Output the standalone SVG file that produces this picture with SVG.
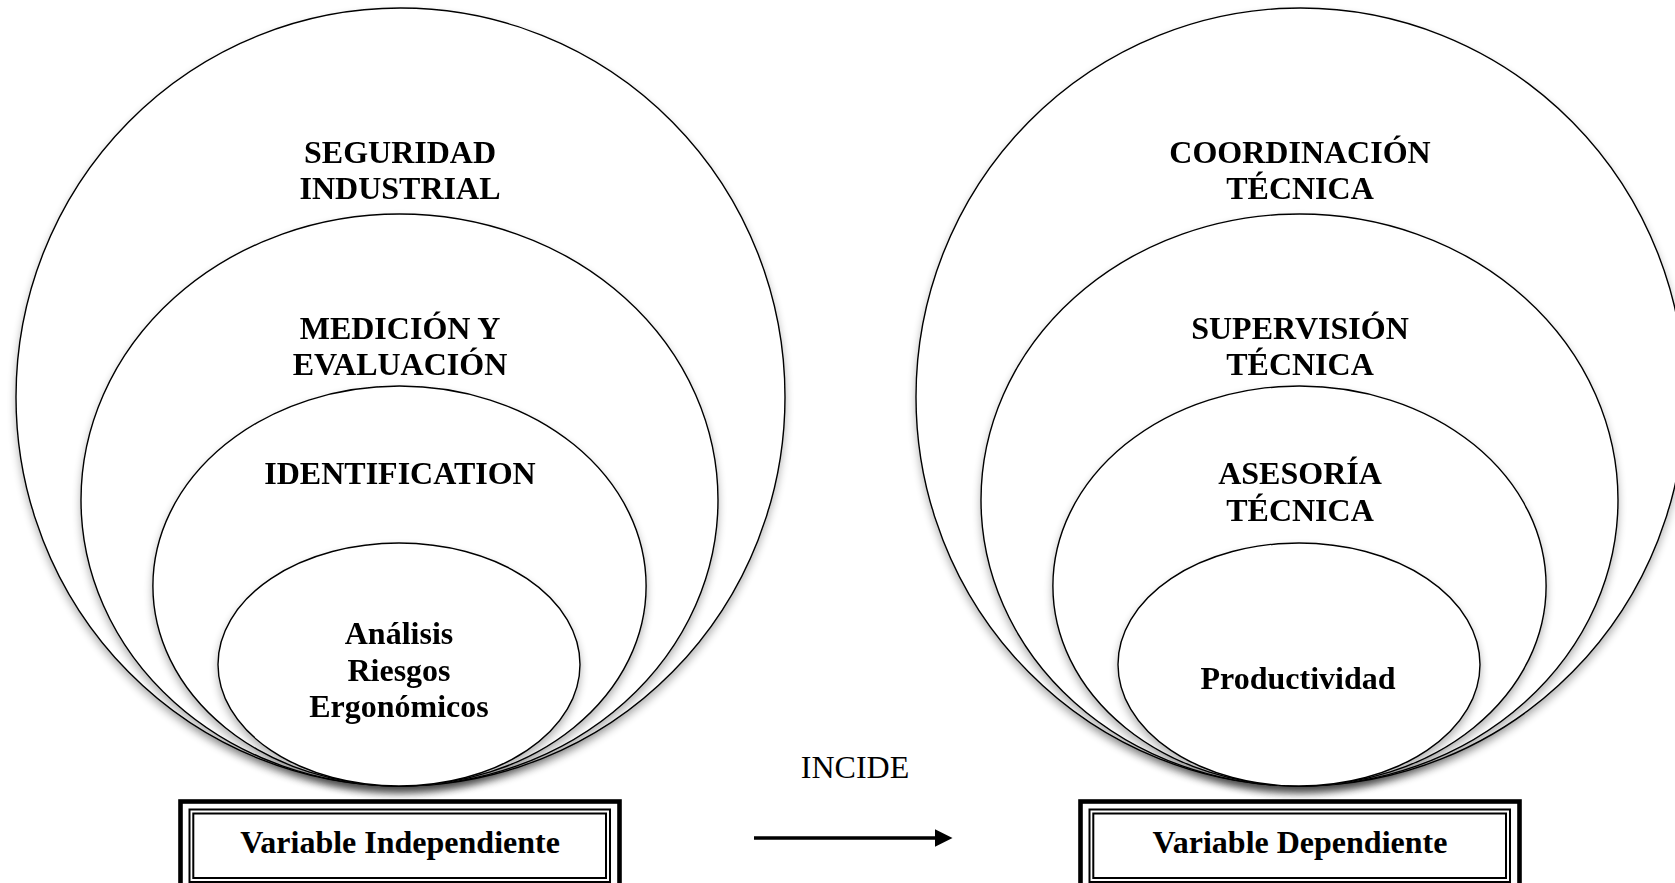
<svg xmlns="http://www.w3.org/2000/svg" width="1675" height="883" viewBox="0 0 1675 883">
  <style>
    .ring { fill: #ffffff; stroke: #000000; stroke-width: 1.4; }
    .lbl { font-family: "Liberation Serif", "Times New Roman", serif; font-size: 32px; font-weight: bold; fill: #000000; text-anchor: middle; }
    .plain { font-family: "Liberation Serif", "Times New Roman", serif; font-size: 32px; fill: #000000; text-anchor: middle; }
    .frame-thick { fill: #ffffff; stroke: #000000; stroke-width: 4.6; }
    .frame-thin { fill: none; stroke: #000000; stroke-width: 2; }
    .link { stroke: #000000; stroke-width: 3.5; fill: none; }
  </style>
  <defs>
    <filter id="soft-shadow" x="-10%" y="-10%" width="120%" height="125%">
      <feGaussianBlur in="SourceAlpha" stdDeviation="4"/>
      <feOffset dx="0" dy="5" result="off"/>
      <feComponentTransfer><feFuncA type="linear" slope="0.3"/></feComponentTransfer>
      <feMerge><feMergeNode/><feMergeNode in="SourceGraphic"/></feMerge>
    </filter>
    <marker id="arrowhead" markerWidth="5" markerHeight="5" refX="0" refY="2.5" orient="auto" markerUnits="strokeWidth">
      <path d="M0,0 L5,2.5 L0,5 Z" fill="#000000"/>
    </marker>
  </defs>

  <rect width="1675" height="883" fill="#ffffff"/>

  <!-- Independent variable: nested rings -->
  <g id="seguridad-industrial" filter="url(#soft-shadow)">
    <ellipse class="ring" cx="400.5" cy="397" rx="384.5" ry="389"/>
    <text class="lbl" x="400" y="162.5">SEGURIDAD</text>
    <text class="lbl" x="400" y="198.5">INDUSTRIAL</text>
  </g>
  <g id="medicion-evaluacion" filter="url(#soft-shadow)">
    <ellipse class="ring" cx="399.5" cy="500" rx="318.5" ry="286"/>
    <text class="lbl" x="400" y="339">MEDICIÓN Y</text>
    <text class="lbl" x="400" y="375">EVALUACIÓN</text>
  </g>
  <g id="identification" filter="url(#soft-shadow)">
    <ellipse class="ring" cx="399.5" cy="586" rx="246.6" ry="200"/>
    <text class="lbl" x="400" y="484">IDENTIFICATION</text>
  </g>
  <g id="analisis-riesgos" filter="url(#soft-shadow)">
    <ellipse class="ring" cx="399" cy="664.5" rx="181" ry="121.5"/>
    <text class="lbl" x="399" y="644">Análisis</text>
    <text class="lbl" x="399" y="680.5">Riesgos</text>
    <text class="lbl" x="399" y="717">Ergonómicos</text>
  </g>

  <!-- Dependent variable: nested rings -->
  <g id="coordinacion-tecnica" filter="url(#soft-shadow)">
    <ellipse class="ring" cx="1300.5" cy="397" rx="384.5" ry="389"/>
    <text class="lbl" x="1300" y="162.5">COORDINACIÓN</text>
    <text class="lbl" x="1300" y="198.5">TÉCNICA</text>
  </g>
  <g id="supervision-tecnica" filter="url(#soft-shadow)">
    <ellipse class="ring" cx="1299.5" cy="500" rx="318.5" ry="286"/>
    <text class="lbl" x="1300" y="339">SUPERVISIÓN</text>
    <text class="lbl" x="1300" y="375">TÉCNICA</text>
  </g>
  <g id="asesoria-tecnica" filter="url(#soft-shadow)">
    <ellipse class="ring" cx="1299.5" cy="586" rx="246.6" ry="200"/>
    <text class="lbl" x="1300" y="484">ASESORÍA</text>
    <text class="lbl" x="1300" y="520.5">TÉCNICA</text>
  </g>
  <g id="productividad" filter="url(#soft-shadow)">
    <ellipse class="ring" cx="1299" cy="664.5" rx="181" ry="121.5"/>
    <text class="lbl" x="1298" y="688.5">Productividad</text>
  </g>

  <!-- Variable labels in triple-line frames -->
  <g id="variable-independiente">
    <rect class="frame-thick" x="180.5" y="801.5" width="439" height="89.5"/>
    <rect class="frame-thin" x="189.5" y="809.5" width="420.5" height="72.5"/>
    <rect class="frame-thin" x="193.3" y="813.5" width="412.7" height="64.5"/>
    <text class="lbl" x="400" y="853">Variable Independiente</text>
  </g>
  <g id="variable-dependiente">
    <rect class="frame-thick" x="1080.5" y="801.5" width="439" height="89.5"/>
    <rect class="frame-thin" x="1089.5" y="809.5" width="420.5" height="72.5"/>
    <rect class="frame-thin" x="1093.3" y="813.5" width="412.7" height="64.5"/>
    <text class="lbl" x="1300" y="853">Variable Dependiente</text>
  </g>

  <!-- Relation -->
  <g id="connectors">
    <line class="link" x1="754" y1="838" x2="935" y2="838" marker-end="url(#arrowhead)"/>
    <text class="plain" x="855" y="778">INCIDE</text>
  </g>
</svg>
